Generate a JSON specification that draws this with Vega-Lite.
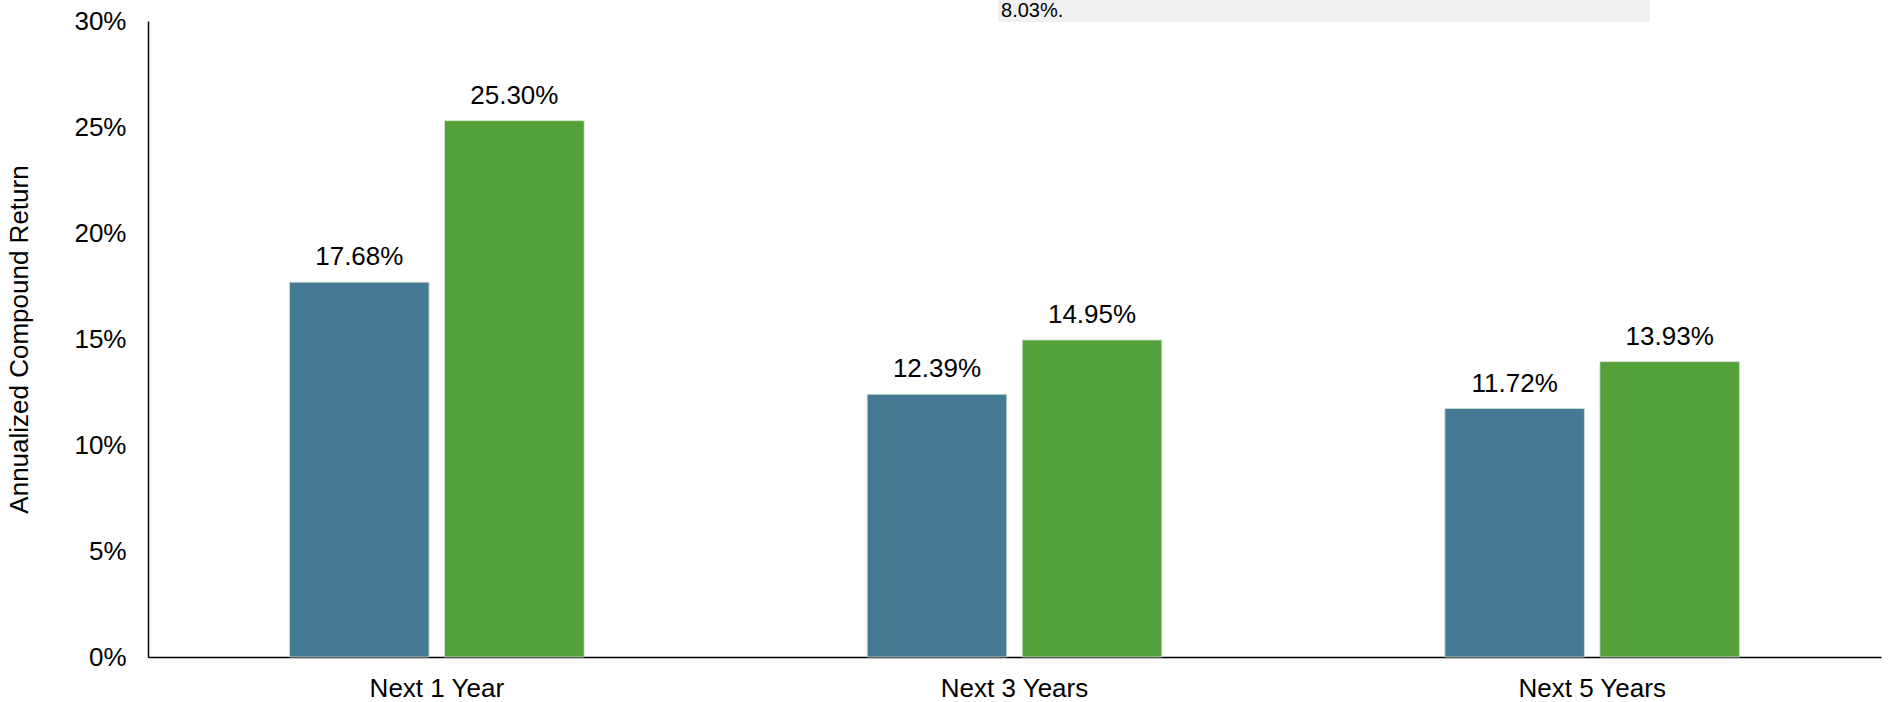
{
  "$schema": "https://vega.github.io/schema/vega-lite/v6.json",
  "width": 1733,
  "height": 636,
  "autosize": {"type": "none"},
  "padding": {"left": 148, "top": 21, "right": 7, "bottom": 45},
  "background": "white",
  "config": {
    "view": {"stroke": null},
    "font": "Liberation Sans",
    "axis": {"labelFont": "Liberation Sans", "titleFont": "Liberation Sans", "labelColor": "#000", "titleColor": "#000", "domainColor": "#000", "domainWidth": 1.5, "grid": false, "ticks": false}
  },
  "data": {
    "values": [
      {"period": "Next 1 Year", "series": "Series 1", "ret": 0.1768},
      {"period": "Next 1 Year", "series": "Series 2", "ret": 0.2530},
      {"period": "Next 3 Years", "series": "Series 1", "ret": 0.1239},
      {"period": "Next 3 Years", "series": "Series 2", "ret": 0.1495},
      {"period": "Next 5 Years", "series": "Series 1", "ret": 0.1172},
      {"period": "Next 5 Years", "series": "Series 2", "ret": 0.1393}
    ]
  },
  "layer": [
    {
      "layer": [
        {
          "mark": {"type": "bar", "stroke": "#cfe0d0", "strokeWidth": 0.8},
          "encoding": {
            "x": {"field": "period", "type": "nominal", "sort": null, "scale": {"paddingInner": 0.49, "paddingOuter": 0.245}, "axis": {"title": null, "labelAngle": 0, "labelFontSize": 26, "labelPadding": 18}},
            "xOffset": {"field": "series", "type": "nominal", "scale": {"paddingInner": 0.1}},
            "y": {"field": "ret", "type": "quantitative", "scale": {"domain": [0, 0.3]}, "axis": {"values": [0, 0.05, 0.1, 0.15, 0.2, 0.25, 0.3], "format": ".0%", "labelFontSize": 26, "labelPadding": 22, "title": "Annualized Compound Return", "titleFontSize": 26, "titleFontWeight": "normal", "titlePadding": 41}},
            "color": {"field": "series", "type": "nominal", "scale": {"range": ["#447A94", "#53A138"]}, "legend": null}
          }
        },
        {
          "mark": {"type": "text", "baseline": "alphabetic", "dy": -17, "fontSize": 26, "color": "#000"},
          "encoding": {
            "x": {"field": "period", "type": "nominal", "sort": null},
            "xOffset": {"field": "series", "type": "nominal"},
            "y": {"field": "ret", "type": "quantitative"},
            "text": {"field": "ret", "type": "quantitative", "format": ".2%"}
          }
        }
      ]
    },
    {
      "data": {"values": [{"note": "8.03%."}]},
      "layer": [
        {
          "mark": {"type": "rect", "color": "#F0F0F0"},
          "encoding": {
            "x": {"datum": 0.4905, "type": "quantitative", "scale": {"domain": [0, 1]}, "axis": null},
            "x2": {"datum": 0.8667},
            "y": {"datum": 0.3099, "type": "quantitative"},
            "y2": {"datum": 0.2995}
          }
        },
        {
          "mark": {"type": "text", "align": "left", "baseline": "alphabetic", "dx": 3, "fontSize": 20, "color": "#000"},
          "encoding": {
            "x": {"datum": 0.4905, "type": "quantitative"},
            "y": {"datum": 0.3017, "type": "quantitative"},
            "text": {"field": "note"}
          }
        }
      ]
    }
  ],
  "resolve": {"scale": {"x": "independent"}}
}
